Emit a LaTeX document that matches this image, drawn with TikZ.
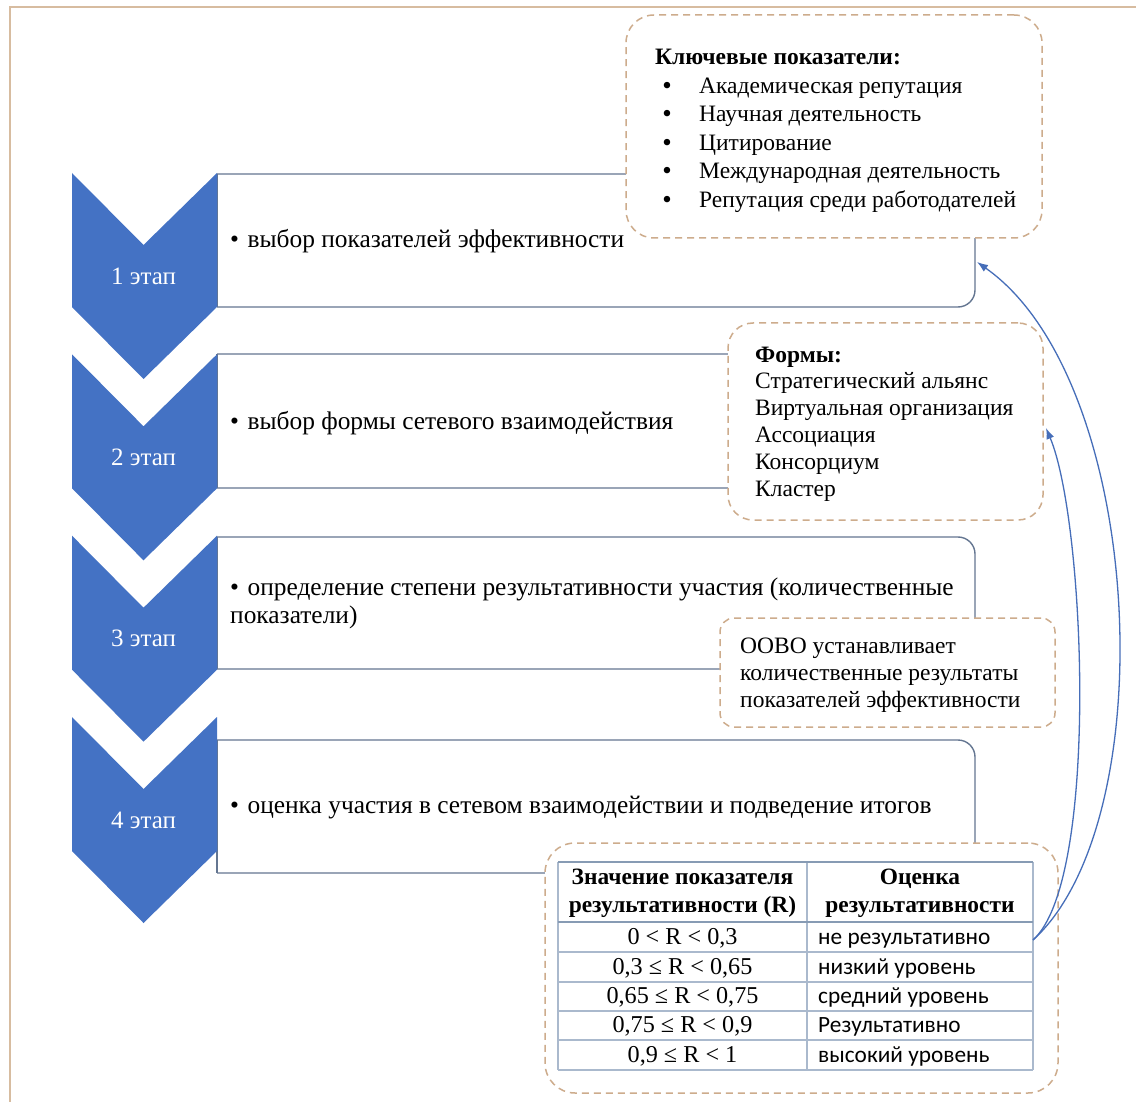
\documentclass[tikz,border=0pt]{standalone}
\usepackage{fontspec}
\setmainfont{Liberation Serif}
\newfontfamily\calibfont{Carlito}
\usetikzlibrary{arrows.meta}
\definecolor{chevc}{RGB}{68,114,196}
\definecolor{boxc}{RGB}{100,118,145}
\definecolor{dashc}{RGB}{205,172,140}
\definecolor{framec}{RGB}{215,188,160}
\definecolor{arrc}{RGB}{70,110,185}
\definecolor{tabdark}{RGB}{135,155,180}
\definecolor{tablight}{RGB}{170,185,205}
\begin{document}
\begin{tikzpicture}[x=1pt,y=-1pt,
  stepbox/.style={draw=boxc,line width=1.4pt},
  dbox/.style={draw=dashc,line width=1.5pt,dash pattern=on 7pt off 5pt,fill=white,inner sep=0pt},
  body/.style={font=\fontsize{25.4}{29}\selectfont,inner sep=0pt,anchor=base west},
  dtext/.style={font=\fontsize{23.5}{28}\selectfont,inner sep=0pt,anchor=base west},
  chevlab/.style={font=\fontsize{25}{29}\selectfont,inner sep=0pt,anchor=base,text=white},
  hdr/.style={font=\bfseries\fontsize{23.4}{27}\selectfont,inner sep=0pt,anchor=base},
  cellA/.style={font=\fontsize{24.2}{27}\selectfont,inner sep=0pt,anchor=base},
  cellB/.style={font=\calibfont\fontsize{23.3}{27}\selectfont,inner sep=0pt,anchor=base west},
  tabthick/.style={draw=tabdark,line width=2.2pt},
  tabthin/.style={draw=tablight,line width=1.2pt},
  conn/.style={draw=arrc,line width=1.3pt,-{Latex[length=11pt,width=8pt]}}
]
\useasboundingbox (0,0) rectangle (1136,1102);
\fill[white] (0,0) rectangle (1136,1102);
\draw[framec,line width=2pt] (10,7) rectangle (1160,1130);

% step boxes
\foreach \a/\b in {174/307,354/488,537/669,740/873}{
  \fill[white,rounded corners=17pt] (217,\a) -- (975,\a) -- (975,\b) -- (217,\b);
  \draw[stepbox,rounded corners=17pt] (217,\a) -- (975,\a) -- (975,\b) -- (217,\b);
  \draw[stepbox] (217,\a) -- (217,\b);
}

% chevrons
\foreach \T [count=\i] in {173,354.3,535.7,717}{
  \fill[chevc] (72,\T) -- (143.5,{\T+72}) -- (217,\T) -- (217,{\T+134}) -- (143.5,{\T+206}) -- (72,{\T+134}) -- cycle;
  \node[chevlab] (c\i) at (143.5,{\T+111}) {\i\ этап};
}

% step texts
\node[body] (t1) at (230,248) {•\hspace{8.5pt}выбор показателей эффективности};
\node[body] (t2) at (230,429) {•\hspace{8.5pt}выбор формы сетевого взаимодействия};
\node[body] (t3a) at (230,595) {•\hspace{8.5pt}определение степени результативности участия (количественные};
\node[body] (t3b) at (230,623) {показатели)};
\node[body] (t4) at (230,813) {•\hspace{8.5pt}оценка участия в сетевом взаимодействии и подведение итогов};

% dashed boxes
\node[dbox,rounded corners=28pt,minimum width=416pt,minimum height=223pt] (kbox) at (834,126.5) {};
\node[dbox,rounded corners=25pt,minimum width=315pt,minimum height=197pt] (fbox) at (885.5,421.5) {};
\node[dbox,rounded corners=14pt,minimum width=335pt,minimum height=109pt] (obox) at (887.5,672.5) {};
\node[dbox,rounded corners=30pt,minimum width=513pt,minimum height=250pt] (tbox) at (801.5,968) {};

% key indicators
\node[dtext,font=\bfseries\fontsize{23.5}{28}\selectfont] (k0) at (655,65) {Ключевые показатели:};
\foreach \t [count=\i] in {Академическая репутация,Научная деятельность,Цитирование,Международная деятельность,Репутация среди работодателей}{
  \node[dtext,anchor=base,font=\fontsize{27}{28}\selectfont] (kb\i) at (667,{66+28.5*\i}) {•};
  \node[dtext] (kt\i) at (699,{65+28.5*\i}) {\t};
}

% forms
\node[dtext,font=\bfseries\fontsize{23.5}{28}\selectfont] (f0) at (755,362) {Формы:};
\foreach \t [count=\i] in {Стратегический альянс,Виртуальная организация,Ассоциация,Консорциум,Кластер}{
  \node[dtext] (f\i) at (755,{362+26.8*\i}) {\t};
}

% OOVO
\node[dtext] (o1) at (740,653) {ООВО устанавливает};
\node[dtext] (o2) at (740,680) {количественные результаты};
\node[dtext] (o3) at (740,707) {показателей эффективности};

% table
\draw[tabthin] (558,862) -- (558,1070);
\draw[tabthin] (807,862) -- (807,1070);
\draw[tabthin] (1033,862) -- (1033,1070);
\draw[tabthick] (558,862) -- (1033,862);
\draw[tabthick] (558,922) -- (1033,922);
\foreach \y in {952,982,1011,1040,1070}{ \draw[tabthin] (558,\y) -- (1033,\y); }
\node[hdr] (h1) at (682.5,884) {Значение показателя};
\node[hdr] (h2) at (682.5,912) {результативности (R)};
\node[hdr] (h3) at (920,884) {Оценка};
\node[hdr] (h4) at (920,912) {результативности};
\foreach \y/\r/\s [count=\i] in {944/{0 < R < 0,3}/не результативно,974/{0,3 ≤ R < 0,65}/низкий уровень,1003.5/{0,65 ≤ R < 0,75}/средний уровень,1032.5/{0,75 ≤ R < 0,9}/Результативно,1062/{0,9 ≤ R < 1}/высокий уровень}{
  \node[cellA] (ra\i) at (682.5,\y) {\r};
  \node[cellB] (rb\i) at (818,\y) {\s};
}

% connectors
\coordinate (aS) at (1033,940);
\coordinate (aE1) at (977,262);
\coordinate (aE2) at (1046,428);
\draw[conn] (aS) .. controls (1165,820) and (1145,380) .. (aE1);
\draw[conn] (aS) .. controls (1100,880) and (1085,520) .. (aE2);
\end{tikzpicture}
\end{document}
